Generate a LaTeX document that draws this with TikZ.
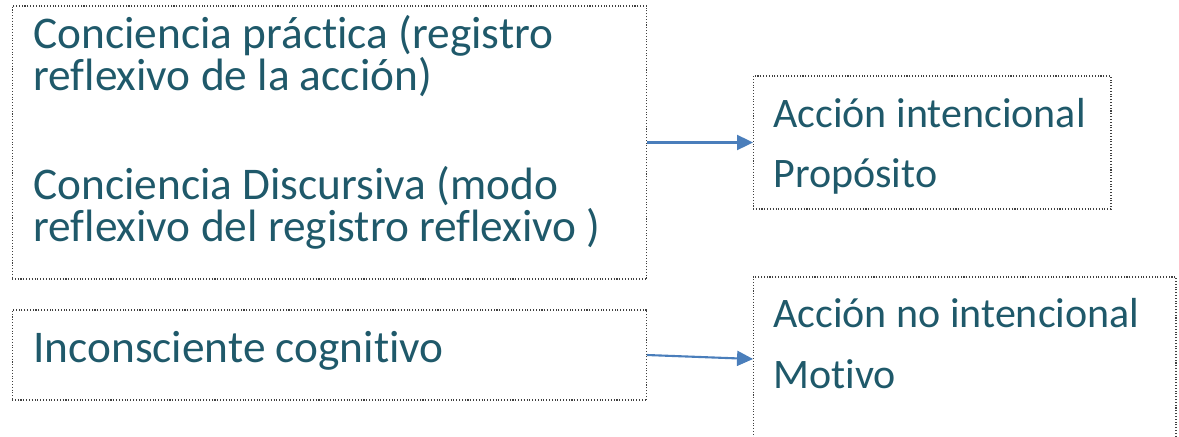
\documentclass[tikz,border=0pt]{standalone}
\usepackage{fontspec}
\setmainfont{Carlito}[Ligatures=NoCommon]
\usetikzlibrary{arrows.meta}
\definecolor{tealtext}{HTML}{1F596A}
\definecolor{arrowblue}{HTML}{4A7EBB}

\begin{document}
\begin{tikzpicture}[x=0.02cm, y=-0.02cm,
		box/.style={draw=black!75, densely dotted, line width=0.6pt, inner sep=0pt, outer sep=0pt},
		txt/.style={anchor=base west, inner sep=0pt, text=tealtext, font=\fontsize{25.8}{26}\selectfont},
		rtxt/.style={txt, font=\fontsize{23.9}{24}\selectfont},
		link/.style={arrowblue, line width=1.2pt, -{Triangle[length=0.32cm, width=0.3cm]}}]
		\useasboundingbox (0,0) rectangle (1179,436);

		% boxes
		\node[box, minimum width=12.7cm, minimum height=5.46cm] (conciencia) at (329.5,142.5) {};
		\node[box, minimum width=7.16cm, minimum height=2.66cm] (intencional) at (932,142.5) {};
		\node[box, minimum width=12.7cm, minimum height=1.8cm] (inconsciente) at (329.5,355) {};
		\node[box, minimum width=8.46cm, minimum height=3.28cm] (nointencional) at (964.5,359) {};

		% texts
		\node[txt] (practica) at (33,48) {Conciencia práctica (registro};
		\node[txt] (practicab) at (33,90) {reflexivo de la acción)};
		\node[txt] (discursiva) at (33,199) {Conciencia Discursiva (modo};
		\node[txt] (discursivab) at (33,241) {reflexivo del registro reflexivo )};
		\node[txt] (cognitivo) at (33,362) {Inconsciente cognitivo};
		\node[rtxt] (accion) at (773,127) {Acción intencional};
		\node[rtxt] (proposito) at (773,187) {Propósito};
		\node[rtxt] (noaccion) at (773,327) {Acción no intencional};
		\node[rtxt] (motivo) at (773,388) {Motivo};

		% arrows
		\draw[link] (conciencia.east) -- (intencional.west);
		\draw[link] (inconsciente.east) -- (nointencional.west);
	\end{tikzpicture}
\end{document}
